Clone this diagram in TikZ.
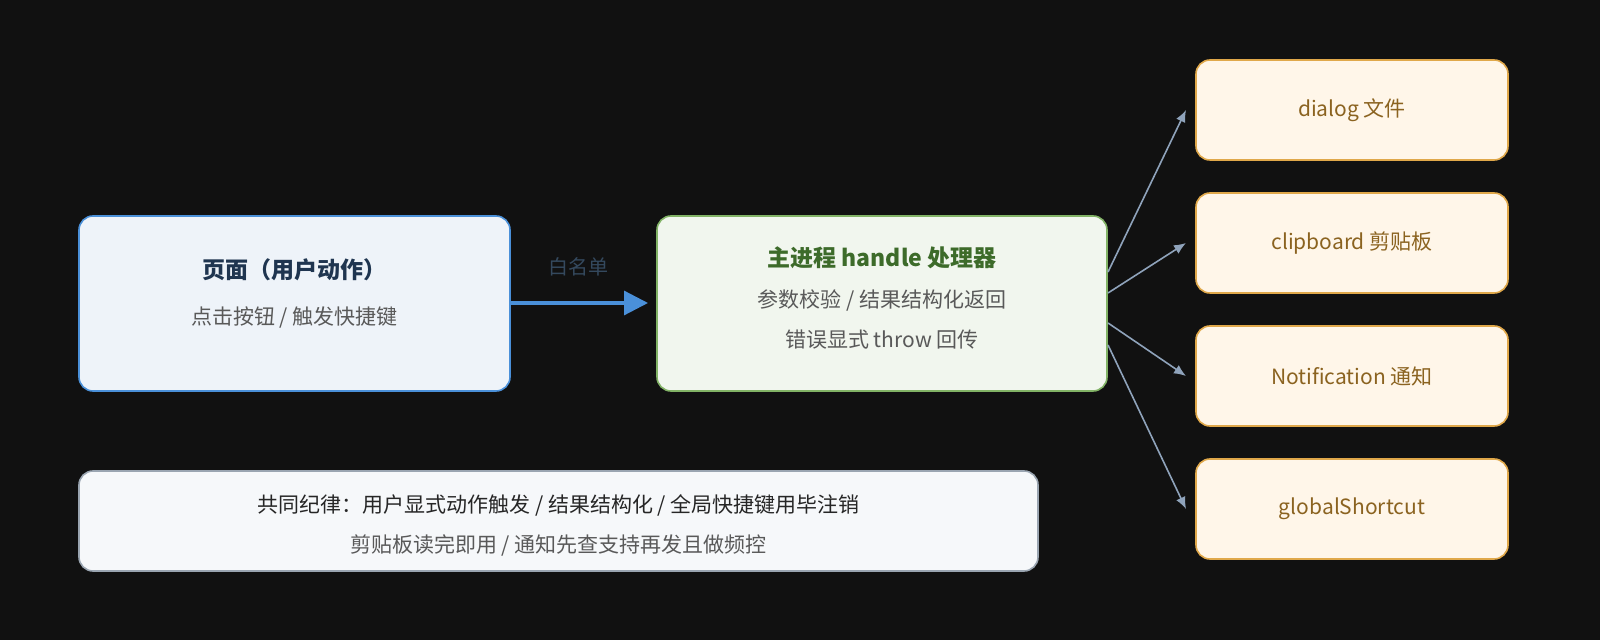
\documentclass[tikz,border=0pt]{standalone}
\usepackage{fontspec}
\setmainfont{Noto Sans CJK SC}
\usetikzlibrary{arrows.meta}
\definecolor{bg}{HTML}{111111}
\begin{document}
\begin{tikzpicture}[x=0.5pt,y=-0.5pt,
 box/.style={rounded corners=7pt,line width=0.8pt},
 ttl/.style={font=\fontsize{11.5}{13}\selectfont\bfseries},
 sub/.style={font=\fontsize{10.5}{12}\selectfont,text=black!65},
 rt/.style={font=\fontsize{10.5}{12}\selectfont,text={rgb,255:red,139;green,99;blue,32}},
 garr/.style={draw={rgb,255:red,143;green,163;blue,187},line width=0.8pt,-{Latex[length=6pt,width=5pt]}}]
\fill[bg] (0,0) rectangle (1600,640);
\useasboundingbox (0,0) rectangle (1600,640);
% left
\draw[box,fill={rgb,255:red,238;green,243;blue,249},draw={rgb,255:red,74;green,144;blue,217}] (79,216) rectangle (510,391);
\node[ttl,text={rgb,255:red,31;green,53;blue,80}] (lt) at (294.5,270) {页面（用户动作）};
\node[sub] (ls) at (294.5,318) {点击按钮 / 触发快捷键};
\coordinate (L) at (510,303);
% middle
\draw[box,fill={rgb,255:red,241;green,246;blue,238},draw={rgb,255:red,130;green,179;blue,102}] (657,216) rectangle (1107,391);
\node[ttl,text={rgb,255:red,61;green,107;blue,42}] (mt) at (882,258) {主进程 handle 处理器};
\node[sub] (m1) at (882,300) {参数校验 / 结果结构化返回};
\node[sub] (m2) at (882,340) {错误显式 throw 回传};
\coordinate (M) at (648,303);
\draw[draw={rgb,255:red,74;green,144;blue,217},line width=1.6pt,-{Triangle[length=12pt,width=12pt]}] (L) -- (M);
\node[font=\fontsize{10}{12}\selectfont,text={rgb,255:red,52;green,73;blue,94}] (wl) at (578,267) {白名单};
% right boxes
\foreach \y/\t/\n in {60/dialog 文件/r1,193/clipboard 剪贴板/r2,326/Notification 通知/r3,459/globalShortcut/r4}{
 \draw[box,fill={rgb,255:red,255;green,246;blue,233},draw={rgb,255:red,224;green,168;blue,74}] (1196,\y) rectangle (1508,\y+100);
 \node[rt] (\n) at (1352,\y+50) {\t};
}
\coordinate (s1) at (1108,272); \coordinate (e1) at (1186,110);
\coordinate (s2) at (1108,293); \coordinate (e2) at (1186,243);
\coordinate (s3) at (1108,323); \coordinate (e3) at (1186,376);
\coordinate (s4) at (1108,345); \coordinate (e4) at (1186,509);
\foreach \i in {1,2,3,4}{\draw[garr] (s\i) -- (e\i);}
% bottom
\draw[box,fill={rgb,255:red,246;green,248;blue,250},draw={rgb,255:red,154;green,165;blue,177}] (79,471) rectangle (1038,571);
\node[font=\fontsize{10.5}{12}\selectfont,text=black!85] (b1) at (558.5,505) {共同纪律：用户显式动作触发 / 结果结构化 / 全局快捷键用毕注销};
\node[sub] (b2) at (558.5,545) {剪贴板读完即用 / 通知先查支持再发且做频控};
\end{tikzpicture}
\end{document}
